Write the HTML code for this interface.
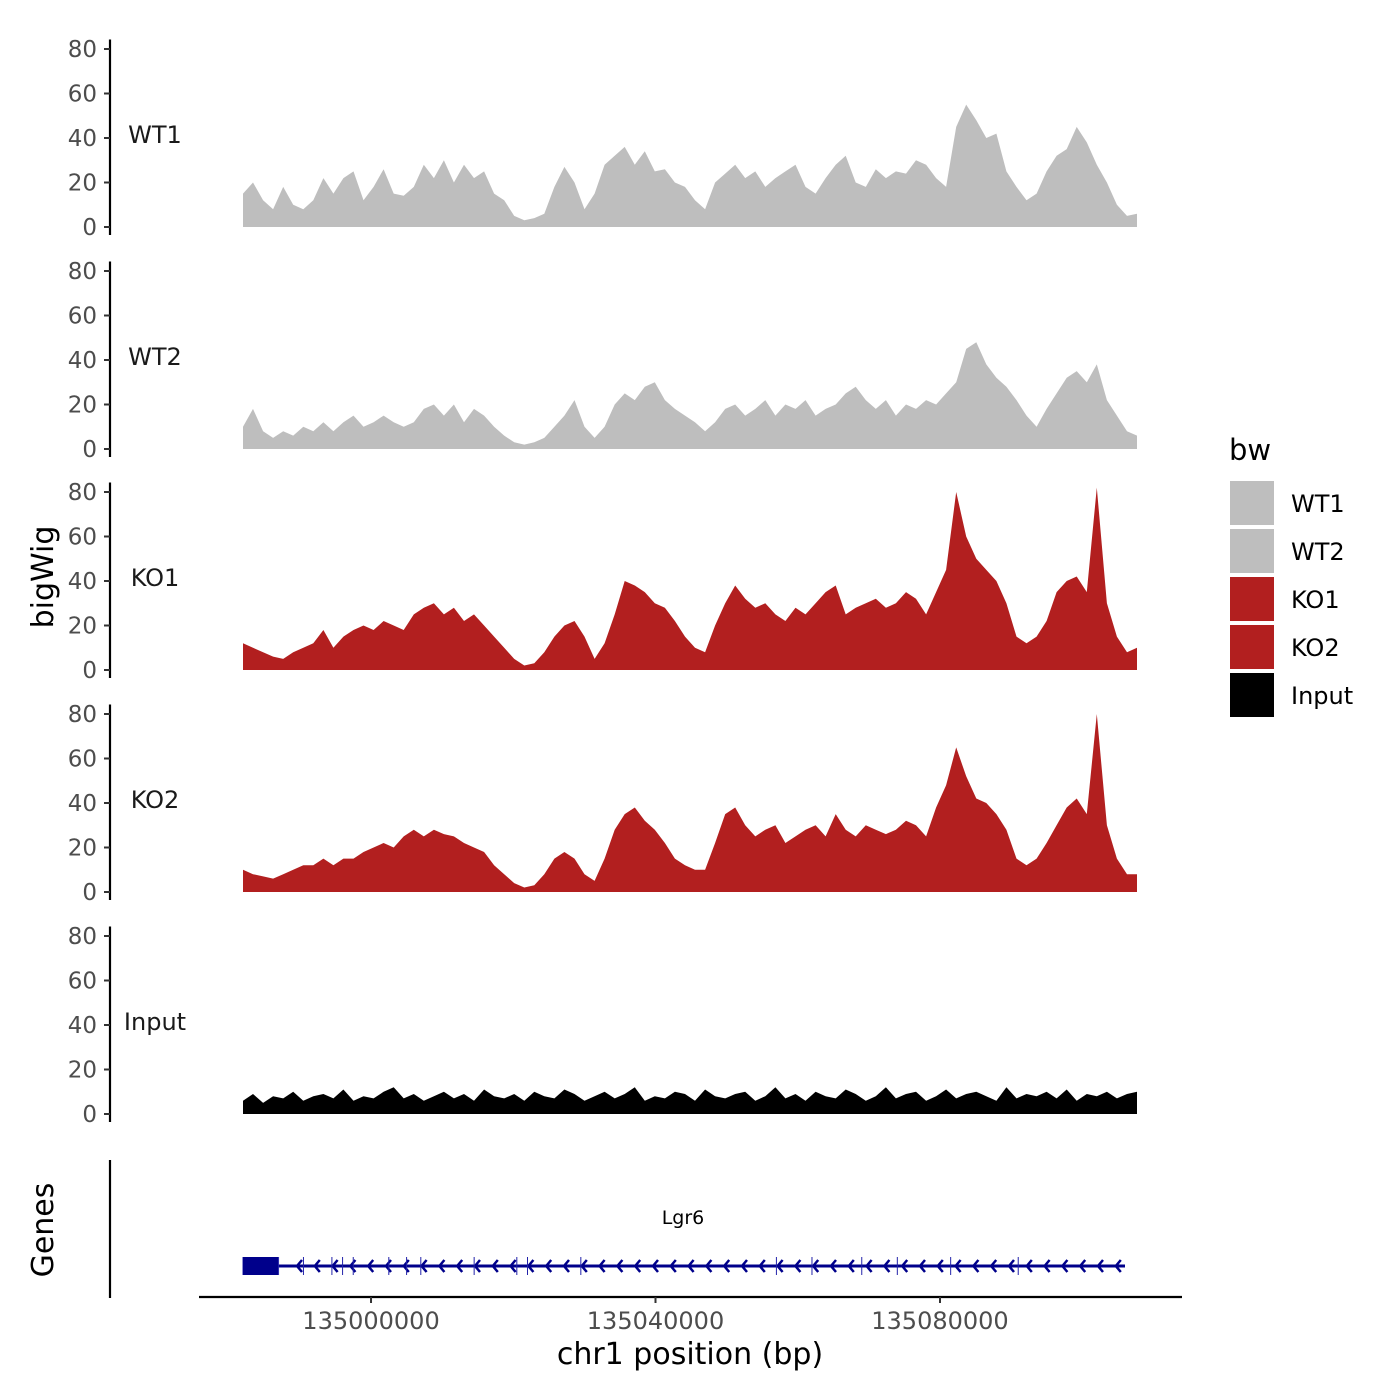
<!DOCTYPE html>
<html><head><meta charset="utf-8">
<style>
html,body{margin:0;padding:0;background:#fff;}
svg{display:block;font-family:"DejaVu Sans","Liberation Sans",sans-serif;}
</style></head>
<body>
<svg id="chart" width="1400" height="1400" viewBox="0 0 1400 1400" xmlns="http://www.w3.org/2000/svg">
<g id="panels"></g>
<g id="genes"></g>
<text x="53" y="577" font-size="30" text-anchor="middle" transform="rotate(-90 53 577)">bigWig</text>
<text x="53" y="1230" font-size="30" text-anchor="middle" transform="rotate(-90 53 1230)">Genes</text>
<text x="690" y="1364" font-size="30" text-anchor="middle">chr1 position (bp)</text>
<g id="legend"></g>
</svg>
<script>
const trackNames = ["WT1","WT2","KO1","KO2","Input"];
const trackColors = ["#bebebe","#bebebe","#b21f1f","#b21f1f","#000000"];
const yTicks = [0,20,40,60,80];
const xTicks = [135000000,135040000,135080000];
const xTickLabels = ["135000000","135040000","135080000"];
const regionStart = 134982000;
const regionEnd = 135107700;
const wt1 = [15,20,12,8,18,10,8,12,22,15,22,25,12,18,26,15,14,18,28,22,30,20,28,22,25,15,12,5,3,4,6,18,27,20,8,15,28,32,36,28,34,25,26,20,18,12,8,20,24,28,22,25,18,22,25,28,18,15,22,28,32,20,18,26,22,25,24,30,28,22,18,45,55,48,40,42,25,18,12,15,25,32,35,45,38,28,20,10,5,6];
const wt2 = [10,18,8,5,8,6,10,8,12,8,12,15,10,12,15,12,10,12,18,20,15,20,12,18,15,10,6,3,2,3,5,10,15,22,10,5,10,20,25,22,28,30,22,18,15,12,8,12,18,20,15,18,22,15,20,18,22,15,18,20,25,28,22,18,22,15,20,18,22,20,25,30,45,48,38,32,28,22,15,10,18,25,32,35,30,38,22,15,8,6];
const ko1 = [12,10,8,6,5,8,10,12,18,10,15,18,20,18,22,20,18,25,28,30,25,28,22,25,20,15,10,5,2,3,8,15,20,22,15,5,12,25,40,38,35,30,28,22,15,10,8,20,30,38,32,28,30,25,22,28,25,30,35,38,25,28,30,32,28,30,35,32,25,35,45,80,60,50,45,40,30,15,12,15,22,35,40,42,35,82,30,15,8,10];
const ko2 = [10,8,7,6,8,10,12,12,15,12,15,15,18,20,22,20,25,28,25,28,26,25,22,20,18,12,8,4,2,3,8,15,18,15,8,5,15,28,35,38,32,28,22,15,12,10,10,22,35,38,30,25,28,30,22,25,28,30,25,35,28,25,30,28,26,28,32,30,25,38,48,65,52,42,40,35,28,15,12,15,22,30,38,42,35,80,30,15,8,8];
const inputCov = [6,9,5,8,7,10,6,8,9,7,11,6,8,7,10,12,7,9,6,8,10,7,9,6,11,8,7,9,6,10,8,7,11,9,6,8,10,7,9,12,6,8,7,10,9,6,11,8,7,9,10,6,8,12,7,9,6,10,8,7,11,9,6,8,12,7,9,10,6,8,11,7,9,10,8,6,12,7,9,8,10,7,11,6,9,8,10,7,9,10];
const seriesValues = [wt1,wt2,ko1,ko2,inputCov];
const exonPositions = [134982000,134987000,134990500,134994500,134996000,134997500,135002500,135005000,135007000,135014500,135020500,135022000,135029500,135057000,135062000,135069000,135074000,135081500,135091000];

const NS="http://www.w3.org/2000/svg";
function mk(tag,attrs,parent){const e=document.createElementNS(NS,tag);for(const k in attrs)e.setAttribute(k,attrs[k]);parent.appendChild(e);return e;}
const X0=243,X1=1137;
function xScale(p){return X0+(p-regionStart)/(regionEnd-regionStart)*(X1-X0);}
const panelBase=[227,449,670,892,1114];
function yScale(v,i){return panelBase[i]-v*178/80;}

const panels=document.getElementById('panels');
trackNames.forEach((name,i)=>{
  const g=mk('g',{},panels);
  
  
  const ax=mk('line',{x1:110,x2:110,y1:yScale(82,i)-5,y2:yScale(0,i)+8,stroke:'#000','stroke-width':2.2},g);
  
  
  yTicks.forEach(t=>{
    const y=yScale(t,i);
    const tk=mk('line',{x1:104,x2:110,y1:y,y2:y,stroke:'#333','stroke-width':2},g);
    
    
    const tl=mk('text',{x:97,y:y+8,'font-size':23,fill:'#4d4d4d','text-anchor':'end'},g);
    
    
    tl.textContent=t;
  });
  const lab=mk('text',{x:155,y:yScale(40,i)+5,'font-size':24,fill:'#1a1a1a','text-anchor':'middle'},g);
  
  
  lab.textContent=name;
  const vals=seriesValues[i];
  const n=vals.length;
  const step=(regionEnd-regionStart)/(n-1);
  let d='M'+xScale(regionStart)+','+yScale(0,i);
  vals.forEach((v,j)=>{d+=' L'+xScale(regionStart+j*step).toFixed(1)+','+yScale(v,i).toFixed(1);});
  d+=' L'+xScale(regionEnd)+','+yScale(0,i)+' Z';
  const area=mk('path',{d:d,fill:trackColors[i],stroke:'none'},g);
  
  
});

const gg=document.getElementById('genes');
const gax=mk('line',{x1:110,x2:110,y1:1160,y2:1298,stroke:'#000','stroke-width':2.2},gg);


const xax=mk('line',{x1:199,x2:1182,y1:1297,y2:1297,stroke:'#000','stroke-width':2.2},gg);


xTicks.forEach((t,k)=>{
  const x=xScale(t);
  const tk=mk('line',{x1:x,x2:x,y1:1297,y2:1303,stroke:'#333','stroke-width':2},gg);
  
  
  const tl=mk('text',{x:x,y:1329,'font-size':24,fill:'#4d4d4d','text-anchor':'middle'},gg);
  
  
  tl.textContent=xTickLabels[k];
});
const gl=mk('line',{x1:245,x2:1125,y1:1266,y2:1266,stroke:'#00008b','stroke-width':3},gg);


for(let x=297;x<1125;x+=17.8){
  const a=mk('path',{d:`M${x+5},${1260} L${x},${1266} L${x+5},${1272}`,fill:'none',stroke:'#00008b','stroke-width':2.5},gg);
  
  
}
exonPositions.forEach(p=>{
  const x=xScale(p);
  const e=mk('line',{x1:x,x2:x,y1:1257,y2:1275,stroke:'#2222aa','stroke-width':1},gg);
  
  
});
const utr=mk('rect',{x:243,y:1257,width:35,height:18,fill:'#00008b'},gg);


const gn=mk('text',{x:683,y:1224,'font-size':19,fill:'#000','text-anchor':'middle'},gg);


gn.textContent='Lgr6';

const lg=document.getElementById('legend');
const lt=mk('text',{x:1229,y:460,'font-size':29,fill:'#000'},lg);


lt.textContent='bw';
trackNames.forEach((name,i)=>{
  const y=481+i*48;
  const r=mk('rect',{x:1230,y:y,width:44,height:44,fill:trackColors[i]},lg);
  
  
  const t=mk('text',{x:1291,y:y+31,'font-size':24,fill:'#000'},lg);
  
  
  t.textContent=name;
});
</script>
</body></html>
